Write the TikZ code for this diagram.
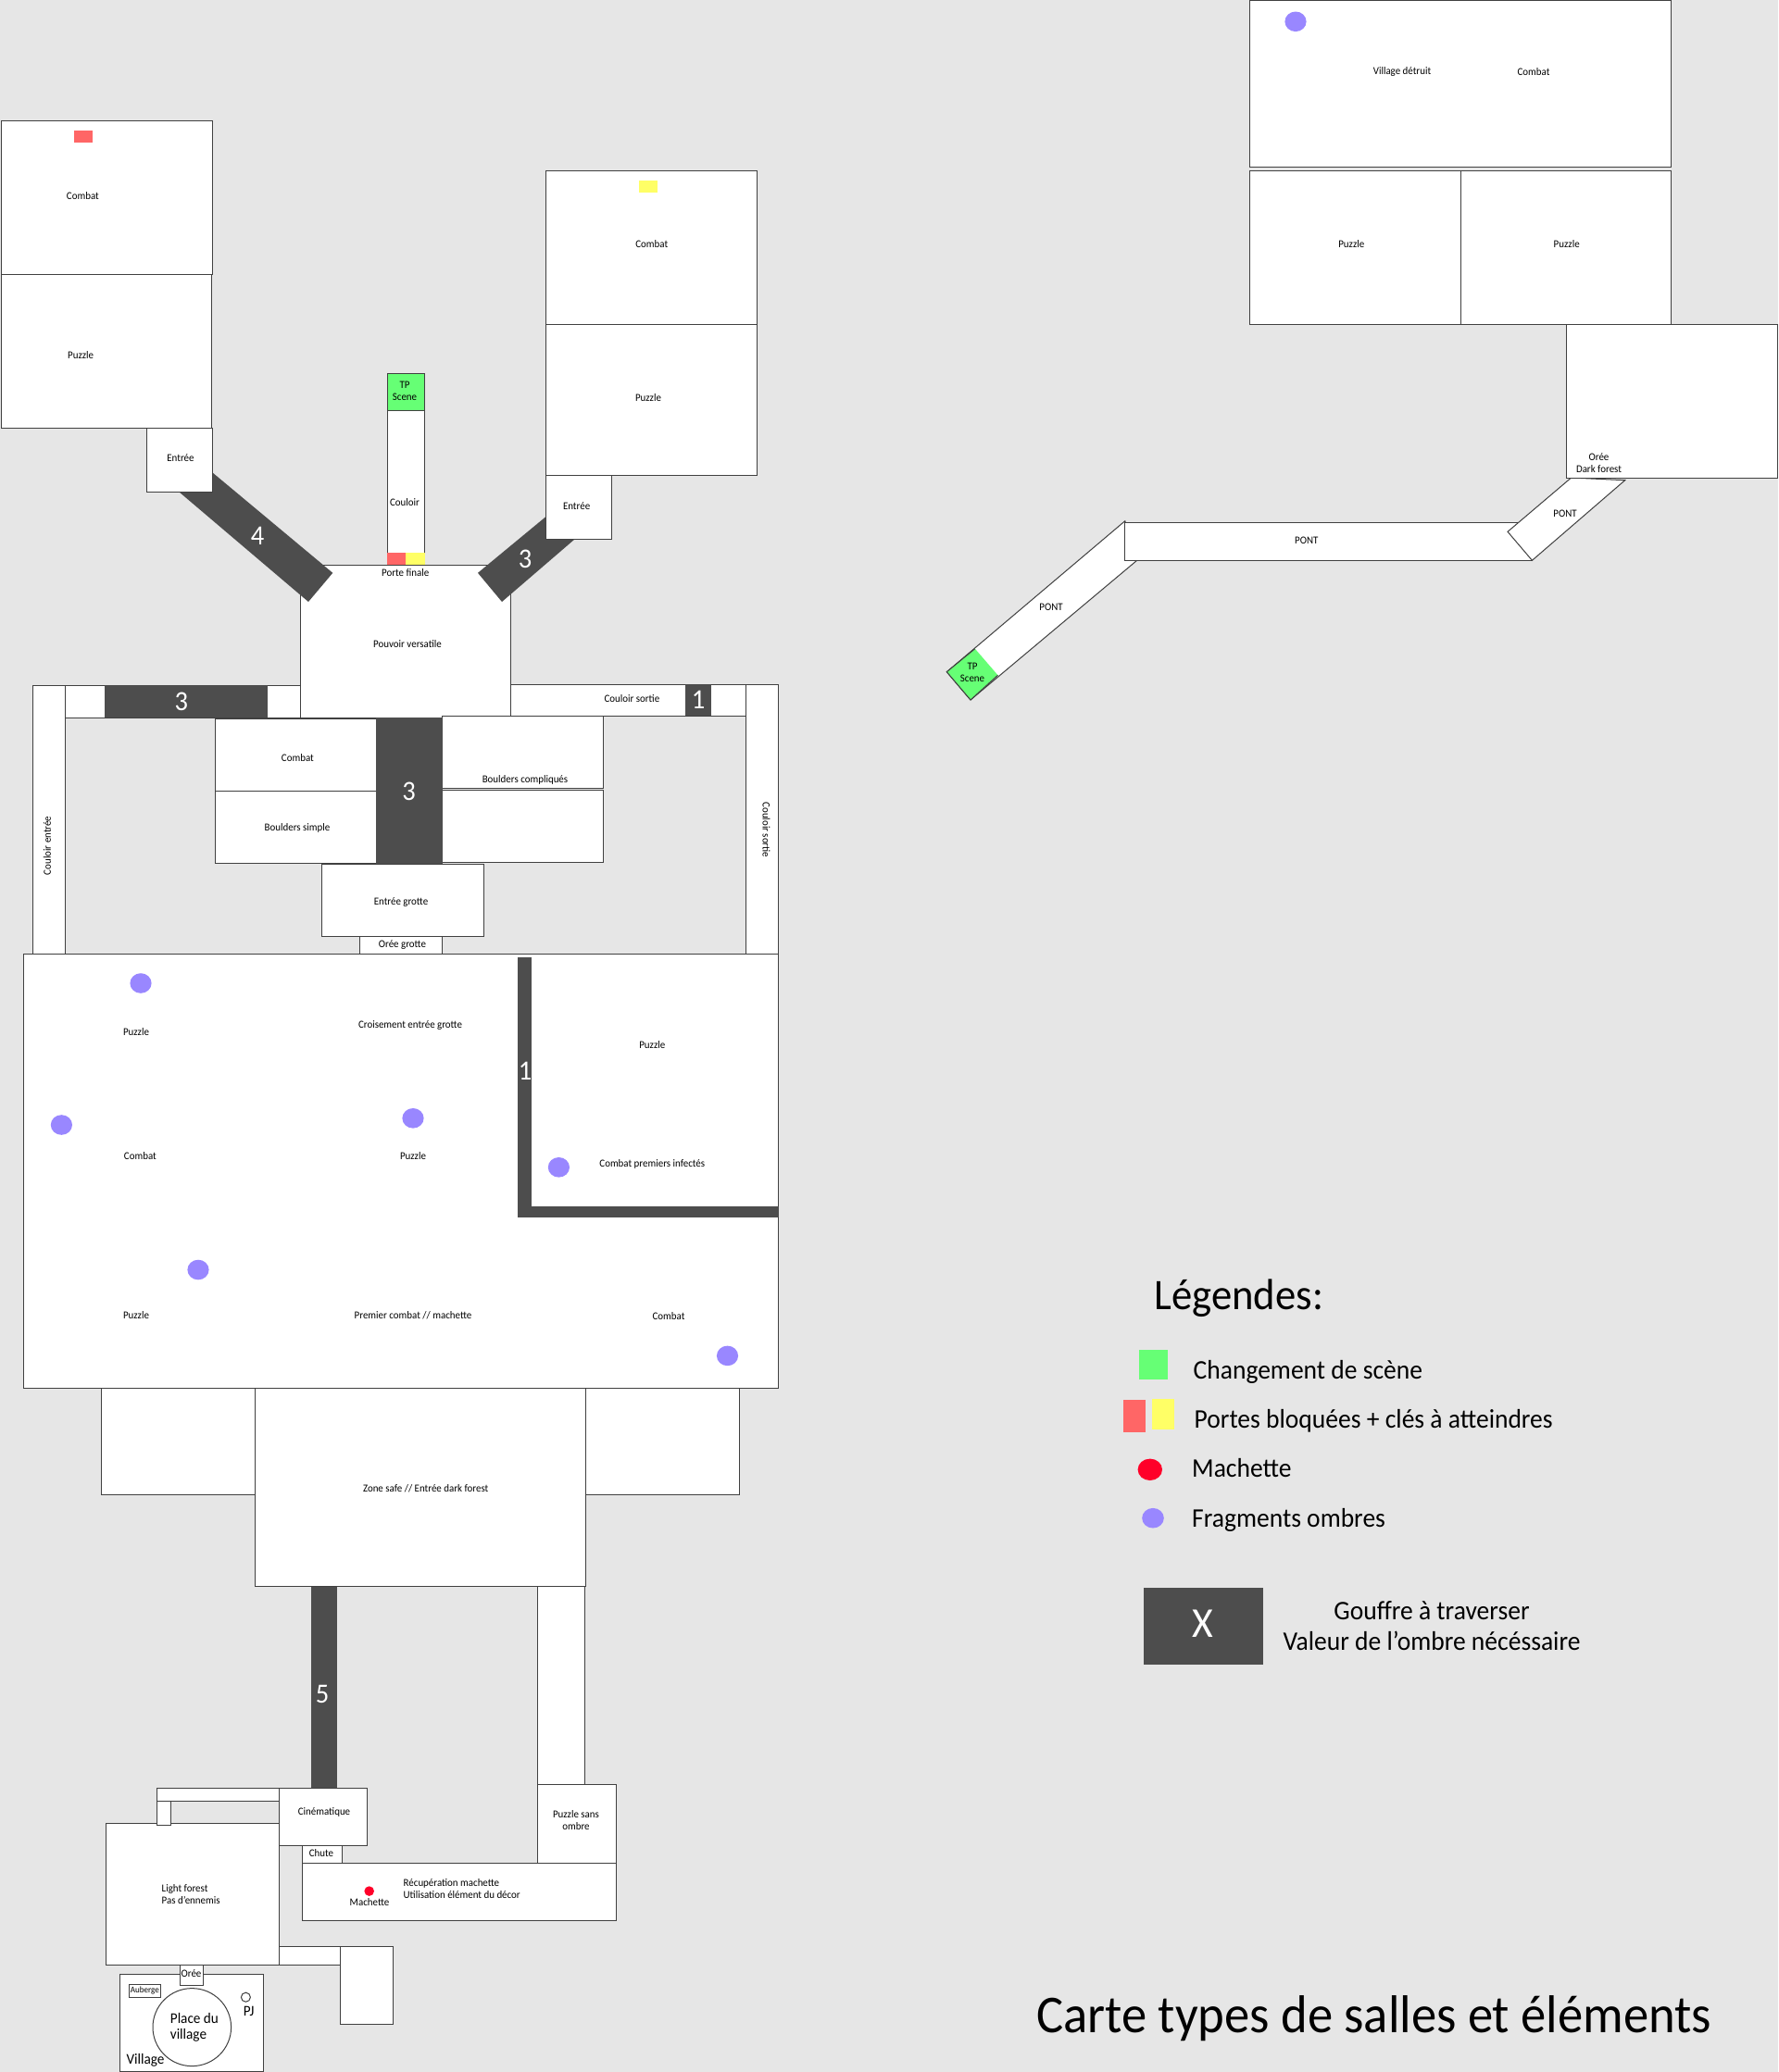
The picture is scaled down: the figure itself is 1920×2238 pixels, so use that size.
\documentclass[tikz,border=0pt]{standalone}
\usepackage{fontspec}
\setmainfont{Carlito}[FakeStretch=0.95]
\definecolor{bg}{HTML}{E6E6E6}
\definecolor{gouffre}{HTML}{4D4D4D}
\definecolor{scene}{HTML}{66FF75}
\definecolor{porte}{HTML}{FF6666}
\definecolor{cle}{HTML}{FFFF66}
\definecolor{frag}{HTML}{9987FF}
\definecolor{mach}{HTML}{FF0029}
\definecolor{trait}{HTML}{404040}
\tikzset{
  room/.style={draw=trait,fill=white,line width=1pt},
  gap/.style={fill=gouffre,draw=none},
  lab/.style={font=\fontsize{11.5}{13}\selectfont,inner sep=0pt,align=center,text=black,yshift=-.4pt},
  big/.style={font=\fontsize{16}{17.5}\selectfont,inner sep=0pt,align=left,text=black},
  num/.style={font=\fontsize{30}{31}\selectfont,inner sep=0pt,text=white},
  leg/.style={font=\fontsize{29}{33}\selectfont,inner sep=0pt,text=black,anchor=base west},
  legc/.style={font=\fontsize{29}{32.7}\selectfont,inner sep=0pt,text=black,align=center},
}
\newcommand{\fragm}[2]{\fill[frag] (#1,#2) ellipse [x radius=11.6,y radius=10.8];}
\begin{document}
\begin{tikzpicture}[x=1pt,y=-1pt]
\useasboundingbox (0,0) rectangle (1920,2238);
\fill[bg] (0,0) rectangle (1920,2238);

% --- top-left wing
\draw[room] (1.6,130) rectangle (229.3,296.4);
\draw[room] (1,296.4) rectangle (228.7,462);
\fill[porte] (80,141) rectangle (100,154);
\node[lab] (combatA) at (89.4,211.6) {Combat};
\node[lab] (puzzleA) at (87.2,383) {Puzzle};

% --- top-right wing
\draw[room] (589.5,184.4) rectangle (817.5,350);
\draw[room] (589.5,350) rectangle (817.5,513);
\fill[cle] (690,195) rectangle (710,208);
\node[lab] (combatB) at (703.8,263.4) {Combat};
\node[lab] (puzzleB) at (700,429) {Puzzle};

% --- central room
\draw[room] (324.7,610) rectangle (551.8,775);
\node[lab] (pouvoir) at (440,695.5) {Pouvoir versatile};

% --- gaps of the star
\fill[gap] (229.8,510.7) -- (359.3,618.8) -- (333,650) -- (193,531) -- cycle;
\fill[gap] (590,557.6) -- (621,582) -- (542,650) -- (516,618.8) -- cycle;
\node[num] (g4) at (278,578.6) {4};
\node[num] (g3a) at (567,603.6) {3};

\draw[room] (158.5,462) rectangle (229.8,531);
\node[lab] (entreeA) at (195,493.8) {Entrée};
\draw[room] (589.5,513) rectangle (660.4,582);
\node[lab] (entreeB) at (622.6,546) {Entrée};

% --- final corridor
\draw[room] (418,403.6) rectangle (458.6,610);
\fill[scene,draw=trait,line width=1pt] (418,403.6) rectangle (458.6,443.8);
\fill[porte] (418,597) rectangle (437.7,610);
\fill[cle] (437.7,597) rectangle (458.6,610);
\node[lab] (tpA) at (437,422) {TP\\Scene};
\node[lab] (couloir) at (437,542) {Couloir};
\node[lab] (porteF) at (437.7,618) {Porte finale};

% --- corridors around the cave
\draw[room] (70,740.4) rectangle (324.7,775);
\fill[gap] (113,740.4) rectangle (289,775);
\node[num] (g3b) at (195.8,758) {3};
\draw[room] (551.8,739) rectangle (805.8,773);
\fill[gap] (740,739) rectangle (768,773);
\node[num] (g1a) at (754,755.7) {1};
\node[lab] (csortieH) at (682.4,753.7) {Couloir sortie};
\draw[room] (35.7,740.4) rectangle (70.2,1030.7);
\node[lab,rotate=90] (centree) at (51,913) {Couloir entrée};
\draw[room] (805.8,739) rectangle (840.5,1030.7);
\node[lab,rotate=-90] (csortieV) at (827.5,896) {Couloir sortie};

% --- cave
\draw[room] (232,776) rectangle (406,854.7);
\draw[room] (232,854.7) rectangle (406,932.8);
\draw[room] (477.8,773) rectangle (651.7,851.6);
\draw[room] (477.8,853) rectangle (651.7,931.7);
\fill[gap] (406,775) rectangle (477.8,932.8);
\node[num] (g3c) at (441.6,855) {3};
\node[lab] (combatC) at (321.4,818.5) {Combat};
\node[lab] (boulS) at (321,894) {Boulders simple};
\node[lab] (boulC) at (567,842) {Boulders compliqués};
\draw[room] (347.8,933) rectangle (522,1011.8);
\node[lab] (entreeG) at (433,974.6) {Entrée grotte};
\draw[room] (388,1011.8) rectangle (477.8,1030.7);
\node[lab] (oreeG) at (434.4,1020.5) {Orée grotte};

% --- big dark-forest area
\draw[room] (109,1499) rectangle (275.3,1614.5);
\draw[room] (632,1499) rectangle (798.7,1614.5);
\draw[room] (25.8,1030.7) rectangle (840.5,1499);
\fill[gap] (559,1033.8) rectangle (574.3,1315);
\fill[gap] (559,1303) rectangle (841,1315);
\node[num] (g1b) at (567,1157) {1};
\fragm{152}{1062}
\fragm{66.4}{1215}
\fragm{446}{1207.8}
\fragm{603.4}{1260.8}
\fragm{214}{1371.5}
\fragm{785.5}{1464.4}
\node[lab] (p1) at (147,1114.4) {Puzzle};
\node[lab] (crois) at (443,1106.7) {Croisement entrée grotte};
\node[lab] (p2) at (704.3,1128) {Puzzle};
\node[lab] (c1) at (151.4,1248.6) {Combat};
\node[lab] (p3) at (446,1248.6) {Puzzle};
\node[lab] (cpi) at (704.3,1256.7) {Combat premiers infectés};
\node[lab] (p4) at (147,1420.5) {Puzzle};
\node[lab] (pcm) at (446,1420.5) {Premier combat // machette};
\node[lab] (c2) at (722,1421.5) {Combat};

% --- safe zone
\draw[room] (275.3,1499) rectangle (632,1713.5);
\node[lab] (zone) at (459.7,1607.4) {Zone safe // Entrée dark forest};
\fill[gap] (335.8,1713.5) rectangle (363.5,1931.6);
\node[num] (g5) at (348,1829.5) {5};
\draw[room] (580.6,1713.5) rectangle (631,1927);
\draw[room] (580.6,1927) rectangle (665.6,2012.4);
\node[lab] (pso) at (622,1965.3) {Puzzle sans\\ombre};

% --- start of the game
\draw[room] (169.4,1931.6) rectangle (301.4,1945);
\draw[room] (114.4,1969.7) rectangle (301.4,2122.7);
\draw[room] (169.4,1945) rectangle (184.8,1971.8);
\node[lab,align=left,anchor=west] (light) at (174.5,2045.7) {Light forest\\Pas d’ennemis};
\draw[room] (301.4,1931.6) rectangle (396,1993);
\node[lab] (cine) at (350,1957) {Cinématique};
\draw[room] (326.7,1993) rectangle (369.8,2012.4);
\node[lab] (chute) at (347,2001) {Chute};
\draw[room] (326.7,2012.4) rectangle (665.6,2074.3);
\fill[mach] (398.7,2042.6) circle [radius=5.3];
\node[lab] (mache) at (399,2054) {Machette};
\node[lab,align=left,anchor=west] (recup) at (435.5,2039.3) {Récupération machette\\Utilisation élément du décor};
\draw[room] (301.4,2102.8) rectangle (367.5,2122.7);
\draw[room] (367.5,2102.8) rectangle (424.4,2186.8);

% --- village
\draw[room] (129.4,2132.3) rectangle (284.4,2237);
\draw[room] (194.7,2122.7) rectangle (219.6,2144);
\node[lab] (oreeV) at (206.5,2131) {Orée};
\draw[room] (139,2143.7) rectangle (173.3,2157.2);
\node[lab,font=\fontsize{9.5}{11}\selectfont] (auberge) at (156.3,2149.7) {Auberge};
\draw[room] (207.3,2189.6) ellipse [x radius=42.3,y radius=42];
\node[big] (place) at (209.9,2190) {Place du\\village};
\draw[room] (265.4,2157.2) circle [radius=5];
\node[big] (pj) at (268.6,2172.5) {PJ};
\node[big] (village) at (157,2225.5) {Village};

% --- bridges and far wing
\draw[room] (1214.8,562.7) -- (1227.7,605.3) -- (1048,756) -- (1022.3,725.7) -- cycle;
\fill[scene] (1052.8,700.7) -- (1077.5,729.3) -- (1048,756) -- (1022.3,725.7) -- cycle;
\draw[draw=trait,line width=1pt] (1052.8,700.7) -- (1022.3,725.7) -- (1048,756) -- (1077.5,729.3);
\node[lab] (tpB) at (1050,726) {TP\\Scene};
\node[lab] (pontA) at (1135,655.7) {PONT};
\draw[room] (1214.8,564.3) rectangle (1654.4,605.3);
\node[lab] (pontB) at (1410.8,583.7) {PONT};
\draw[room] (1696.6,516) -- (1754.7,518.7) -- (1654.4,605.3) -- (1628,574.3) -- cycle;
\node[lab] (pontC) at (1690,554) {PONT};

\draw[room] (1691.3,350) rectangle (1919.6,516);
\node[lab] (oreeD) at (1726.5,499.7) {Orée\\Dark forest};
\draw[room] (1349.3,0) rectangle (1804.5,180.7);
\draw[room] (1349.3,184) rectangle (1577,350);
\draw[room] (1577,184) rectangle (1804.5,350);
\fragm{1399}{23.3}
\node[lab] (vdet) at (1514,77.3) {Village détruit};
\node[lab] (c3) at (1656,77.3) {Combat};
\node[lab] (p5) at (1459.3,263.3) {Puzzle};
\node[lab] (p6) at (1691.7,263.3) {Puzzle};

% --- legend
\node[font=\fontsize{47}{49}\selectfont,inner sep=0pt,anchor=base west] (legt) at (1246.4,1414) {Légendes:};
\fill[scene] (1230,1457.7) rectangle (1260.7,1490);
\node[leg] (l1) at (1288.5,1489) {Changement de scène};
\fill[porte] (1212.9,1511.7) rectangle (1237,1546.7);
\fill[cle] (1244.3,1511) rectangle (1267.5,1544);
\node[leg] (l2) at (1289.5,1542.5) {Portes bloquées + clés à atteindres};
\fill[mach] (1241.8,1587.3) ellipse [x radius=13.2,y radius=11.7];
\node[leg] (l3) at (1287,1595.5) {Machette};
\fill[frag] (1245,1639.7) ellipse [x radius=11.8,y radius=10.8];
\node[leg] (l4) at (1287,1649.5) {Fragments ombres};
\fill[gouffre] (1235.4,1715) rectangle (1364,1797.7);
\node[font=\fontsize{46}{48}\selectfont,inner sep=0pt,text=white] (lx) at (1298.6,1754) {X};
\node[legc,anchor=base] (l5) at (1546,1782.2) {Gouffre à traverser\\Valeur de l’ombre nécéssaire};

% --- title
\node[font=\fontsize{57.5}{60}\selectfont,inner sep=0pt,anchor=base west] (titre) at (1118.9,2195.3) {Carte types de salles et éléments};
\end{tikzpicture}
\end{document}
